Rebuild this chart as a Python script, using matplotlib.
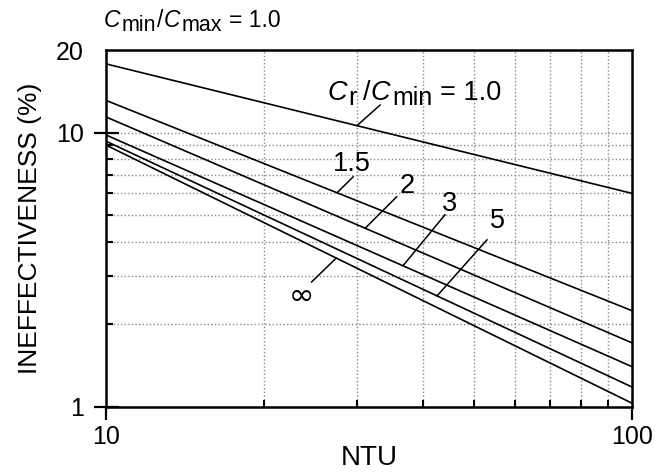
import matplotlib
matplotlib.use('Agg')
import matplotlib.pyplot as plt
import numpy as np
from matplotlib.ticker import FixedLocator, NullFormatter
from matplotlib.transforms import offset_copy

plt.rcParams['font.family'] = ['Liberation Sans', 'DejaVu Sans']

# NTU end points of each curve and ineffectiveness (%)
ntu = [10, 100]
cr_labels = ['1.0', '1.5', '2', '3', '5', '∞']
ineff_at_10 = [17.8, 13.1, 11.4, 9.8, 9.3, 9.0]
ineff_at_100 = [6.0, 2.24, 1.71, 1.40, 1.18, 1.03]

# where each label's leader line touches its curve (NTU)
leader_ntu = [30.0, 27.5, 31.1, 36.7, 42.6, 27.4]


def y_on_curve(i, x):
    lx = np.log10(ntu)
    ly = np.log10([ineff_at_10[i], ineff_at_100[i]])
    return 10 ** np.interp(np.log10(x), lx, ly)


def rich_text(fig, ax, x, y, pieces, transform):
    # pieces placed one after another so subscripts can stay full size
    renderer = fig.canvas.get_renderer()
    dx = 0.0
    for txt, size, style, dy, gap in pieces:
        dx += gap
        tr = offset_copy(transform, fig=fig, x=dx, y=dy, units='points')
        t = ax.text(x, y, txt, fontsize=size, style=style, transform=tr,
                    ha='left', va='baseline')
        dx += t.get_window_extent(renderer).width * 72 / fig.dpi


fig = plt.figure(figsize=(6.57, 4.74), dpi=100)
ax = fig.add_axes([0.1613, 0.142, 0.8006, 0.7525])

for i in range(len(cr_labels)):
    ax.plot(ntu, [ineff_at_10[i], ineff_at_100[i]], color='black', lw=1.2)

ax.set_xscale('log')
ax.set_yscale('log')
ax.set_xlim(10, 100)
ax.set_ylim(1, 20)

ax.xaxis.set_major_locator(FixedLocator([10, 100]))
ax.xaxis.set_minor_locator(FixedLocator([20, 30, 40, 50, 60, 70, 80, 90]))
ax.yaxis.set_major_locator(FixedLocator([1, 10, 20]))
ax.yaxis.set_minor_locator(FixedLocator([2, 3, 4, 5, 6, 7, 8, 9]))
ax.set_xticklabels(['10', '100'])
ax.set_yticklabels(['1', '10', '20'])
ax.xaxis.set_minor_formatter(NullFormatter())
ax.yaxis.set_minor_formatter(NullFormatter())

ax.tick_params(axis='y', which='major', direction='inout', length=18,
               width=1.6, labelsize=18, pad=7)
ax.tick_params(axis='x', which='major', direction='out', length=9,
               width=1.6, labelsize=18, pad=4)
ax.tick_params(which='minor', direction='in', length=5, width=1.5)
ax.yaxis.get_major_ticks()[2].tick1line.set_visible(False)

grid_style = dict(color='#8a8a8a', linestyle=(0, (1, 1.6)), linewidth=1.0)
ax.grid(True, which='minor', **grid_style)
ax.grid(True, which='major', axis='y', **grid_style)

for s in ax.spines.values():
    s.set_linewidth(1.8)

ax.set_xlabel('NTU', fontsize=20, va='center')
ax.xaxis.set_label_coords(0.5, -0.145)
ax.set_ylabel('INEFFECTIVENESS (%)', fontsize=19, va='center')
ax.yaxis.set_label_coords(-0.1445, 0.5)

# title above the plot
rich_text(fig, ax, 104 / 657, 1 - 27 / 474,
          [('C', 16.5, 'italic', 0, 0), ('min', 15.5, 'normal', -2.8, 1),
           ('/', 16.5, 'normal', 0, 0.5), ('C', 16.5, 'italic', 0, 0),
           ('max', 15.5, 'normal', -2.8, 1), ('= 1.0', 16.5, 'normal', 0, 5.5)],
          transform=fig.transFigure)

# leader lines: (leader start x, leader start y)
leader_start = [(33.2, 12.6), (29.5, 6.89), (35.7, 5.83), (44.1, 5.01),
                (53.0, 4.06), (24.6, 2.85)]
# label positions (left x, baseline y)
label_pos = [(26.4, 13.09), (27.0, 7.21), (36.2, 6.04), (43.5, 5.18),
             (53.7, 4.48), (23.5, 2.53)]

for i, lab in enumerate(cr_labels):
    sx, sy = leader_start[i]
    ex = leader_ntu[i]
    ax.plot([sx, ex], [sy, y_on_curve(i, ex)], color='black', lw=1.1)
    tx, ty = label_pos[i]
    if i == 0:
        rich_text(fig, ax, tx, ty,
                  [('C', 19.5, 'italic', 0, 0), ('r', 18, 'normal', -3.5, 1),
                   ('/', 19.5, 'normal', 0, 4), ('C', 19.5, 'italic', 0, 0.5),
                   ('min', 18, 'normal', -3.5, 1),
                   ('= 1.0', 19.5, 'normal', 0, 6)],
                  transform=ax.transData)
    elif lab == '∞':
        ax.text(tx, ty, lab, fontsize=22, ha='center', va='center',
                family=['DejaVu Sans'])
    else:
        ax.text(tx, ty, lab, fontsize=19.5, ha='left', va='baseline')

plt.savefig('out.png', dpi=100)
